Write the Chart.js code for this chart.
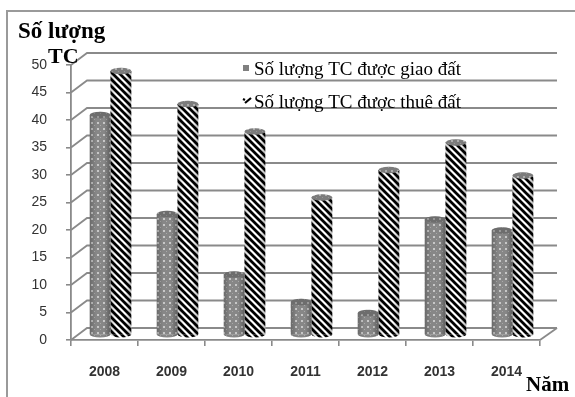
<!DOCTYPE html>
<html>
<head>
<meta charset="utf-8">
<script src="https://cdn.jsdelivr.net/npm/chart.js@4.4.1/dist/chart.umd.min.js"></script>
<style>
  html, body { margin: 0; padding: 0; background: #ffffff; }
  #wrap { width: 575px; height: 397px; position: relative; }
</style>
</head>
<body>
<div id="wrap"><canvas id="c" width="575" height="397"></canvas></div>
<script>
// Số tổ chức được giao đất / thuê đất theo năm
const years = ['2008', '2009', '2010', '2011', '2012', '2013', '2014'];
const giaoDat = [40, 22, 11, 6, 4, 21, 19];
const thueDat = [48, 42, 37, 25, 30, 35, 29];
const seriesNames = ['Số lượng TC được giao đất', 'Số lượng TC được thuê đất'];
const yTicks = [0, 5, 10, 15, 20, 25, 30, 35, 40, 45, 50];

// depth of the pseudo-3D back wall and of the bars
const DEPTH = { dx: 16, dy: -12 };
const BAR_SHIFT = { dx: 6, dy: -5 };

function makeDots() {
  const p = document.createElement('canvas');
  p.width = 6; p.height = 6;
  const g = p.getContext('2d');
  g.fillStyle = '#878787';
  g.fillRect(0, 0, 6, 6);
  g.fillStyle = '#c8c8c8';
  g.fillRect(1, 1, 2, 2);
  g.fillStyle = '#aaaaaa';
  g.fillRect(4, 4, 1, 1);
  return g.createPattern(p, 'repeat');
}
function makeStripes() {
  const s = 7;
  const p = document.createElement('canvas');
  p.width = s; p.height = s;
  const g = p.getContext('2d');
  g.fillStyle = '#ffffff';
  g.fillRect(0, 0, s, s);
  g.strokeStyle = '#000000';
  g.lineWidth = 2.8;
  g.beginPath();
  for (let k = -1; k <= 1; k++) {
    g.moveTo(k * s - 1, -1);
    g.lineTo(k * s + s + 1, s + 1);
  }
  g.stroke();
  return g.createPattern(p, 'repeat');
}

const ctx0 = document.getElementById('c').getContext('2d');
const dotPattern = makeDots();
const stripePattern = makeStripes();

// back wall gridlines, floor and headings
const wallPlugin = {
  id: 'wall3d',
  beforeDatasetsDraw(chart) {
    const { ctx, chartArea: a, scales } = chart;
    const y = scales.y;
    ctx.save();
    ctx.strokeStyle = '#8a8a8a';
    ctx.lineWidth = 1.8;
    yTicks.forEach(v => {
      const py = y.getPixelForValue(v);
      ctx.beginPath();
      ctx.moveTo(a.left, py);
      ctx.lineTo(a.left + DEPTH.dx, py + DEPTH.dy);
      ctx.lineTo(a.right + DEPTH.dx + 1, py + DEPTH.dy);
      ctx.stroke();
    });
    // floor right edge
    const p0 = y.getPixelForValue(0);
    ctx.beginPath();
    ctx.moveTo(a.right, p0);
    ctx.lineTo(a.right + DEPTH.dx + 1, p0 + DEPTH.dy);
    ctx.stroke();
    ctx.restore();

    ctx.save();
    ctx.translate(BAR_SHIFT.dx, BAR_SHIFT.dy);
  },
  afterDatasetsDraw(chart) {
    const { ctx } = chart;
    // cylinder caps, bases and side shading
    chart.data.datasets.forEach((ds, di) => {
      const meta = chart.getDatasetMeta(di);
      meta.data.forEach(bar => {
        const w = bar.width, x0 = bar.x - w / 2, x1 = bar.x + w / 2;
        const rx = w / 2, ry = 3.2;
        // rounded base
        ctx.beginPath();
        ctx.ellipse(bar.x, bar.base, rx, ry, 0, 0, Math.PI);
        ctx.closePath();
        ctx.fillStyle = di === 0 ? dotPattern : stripePattern;
        ctx.fill();
        // side shading
        const gr = ctx.createLinearGradient(x0, 0, x1, 0);
        gr.addColorStop(0, 'rgba(0,0,0,0.22)');
        gr.addColorStop(0.3, 'rgba(0,0,0,0)');
        gr.addColorStop(0.7, 'rgba(0,0,0,0)');
        gr.addColorStop(1, 'rgba(0,0,0,0.30)');
        ctx.beginPath();
        ctx.moveTo(x0, bar.y);
        ctx.lineTo(x0, bar.base);
        ctx.ellipse(bar.x, bar.base, rx, ry, 0, Math.PI, 0, true);
        ctx.lineTo(x1, bar.y);
        ctx.closePath();
        ctx.fillStyle = gr;
        ctx.fill();
        // top cap
        ctx.beginPath();
        ctx.ellipse(bar.x, bar.y, rx, ry, 0, 0, Math.PI * 2);
        ctx.fillStyle = dotPattern;
        ctx.fill();
        ctx.fillStyle = di === 0 ? 'rgba(60,60,60,0.35)' : 'rgba(90,90,90,0.25)';
        ctx.fill();
      });
    });
    ctx.restore();
  },
  afterDraw(chart) {
    const { ctx } = chart;
    ctx.save();
    // frame
    ctx.strokeStyle = '#9a9a9a';
    ctx.lineWidth = 2;
    ctx.strokeRect(7, 11, 580, 400);

    // axis headings
    ctx.fillStyle = '#000000';
    ctx.textBaseline = 'alphabetic';
    ctx.textAlign = 'left';
    ctx.font = 'bold 23px "Liberation Serif", "Times New Roman", serif';
    ctx.fillText('Số lượng', 18, 38);
    ctx.font = 'bold 22px "Liberation Serif", "Times New Roman", serif';
    ctx.fillText('TC', 48, 63);
    ctx.font = 'bold 21px "Liberation Serif", "Times New Roman", serif';
    ctx.fillText('Năm', 526, 391);

    // legend
    const lx = 243;
    ctx.font = '19px "Liberation Serif", "Times New Roman", serif';
    ctx.fillStyle = '#000000';
    ctx.fillText(seriesNames[0], 254, 75);
    ctx.fillText(seriesNames[1], 254, 108);
    ctx.fillStyle = '#808080';
    ctx.fillRect(lx, 65, 6, 6);
    ctx.strokeStyle = '#000000';
    ctx.lineWidth = 2.2;
    ctx.beginPath();
    ctx.moveTo(lx, 99);
    ctx.lineTo(lx + 2, 100);
    ctx.moveTo(lx + 2, 103);
    ctx.lineTo(lx + 8, 98);
    ctx.stroke();
    ctx.restore();
  }
};

new Chart(ctx0, {
  type: 'bar',
  data: {
    labels: years,
    datasets: [
      { label: seriesNames[0], data: giaoDat, backgroundColor: dotPattern, borderWidth: 0 },
      { label: seriesNames[1], data: thueDat, backgroundColor: stripePattern, borderWidth: 0 }
    ]
  },
  options: {
    responsive: false,
    animation: false,
    devicePixelRatio: 1,
    layout: { padding: { left: 0, right: 35, top: 65, bottom: 0 } },
    plugins: { legend: { display: false }, title: { display: false }, tooltip: { enabled: false } },
    datasets: { bar: { categoryPercentage: 0.62, barPercentage: 1 } },
    scales: {
      x: {
        grid: { display: true, drawOnChartArea: false, offset: true, tickLength: 6, color: '#8a8a8a', lineWidth: 1.6 },
        border: { display: true, color: '#8a8a8a', width: 1.8 },
        ticks: {
          color: '#333333',
          padding: 18,
          font: { family: '"Liberation Sans", Arial, sans-serif', size: 14, weight: 'bold' }
        },
        afterFit(s) { s.height = 57; }
      },
      y: {
        min: 0, max: 50,
        afterBuildTicks(s) { s.ticks = yTicks.map(v => ({ value: v })); },
        grid: { display: true, drawOnChartArea: false, tickLength: 5, color: '#8a8a8a', lineWidth: 1.6 },
        border: { display: true, color: '#8a8a8a', width: 1.8 },
        ticks: {
          color: '#333333',
          padding: 19,
          font: { family: '"Liberation Sans", Arial, sans-serif', size: 14 }
        },
        afterFit(s) { s.width = 71; }
      }
    }
  },
  plugins: [wallPlugin]
});
</script>
</body>
</html>
